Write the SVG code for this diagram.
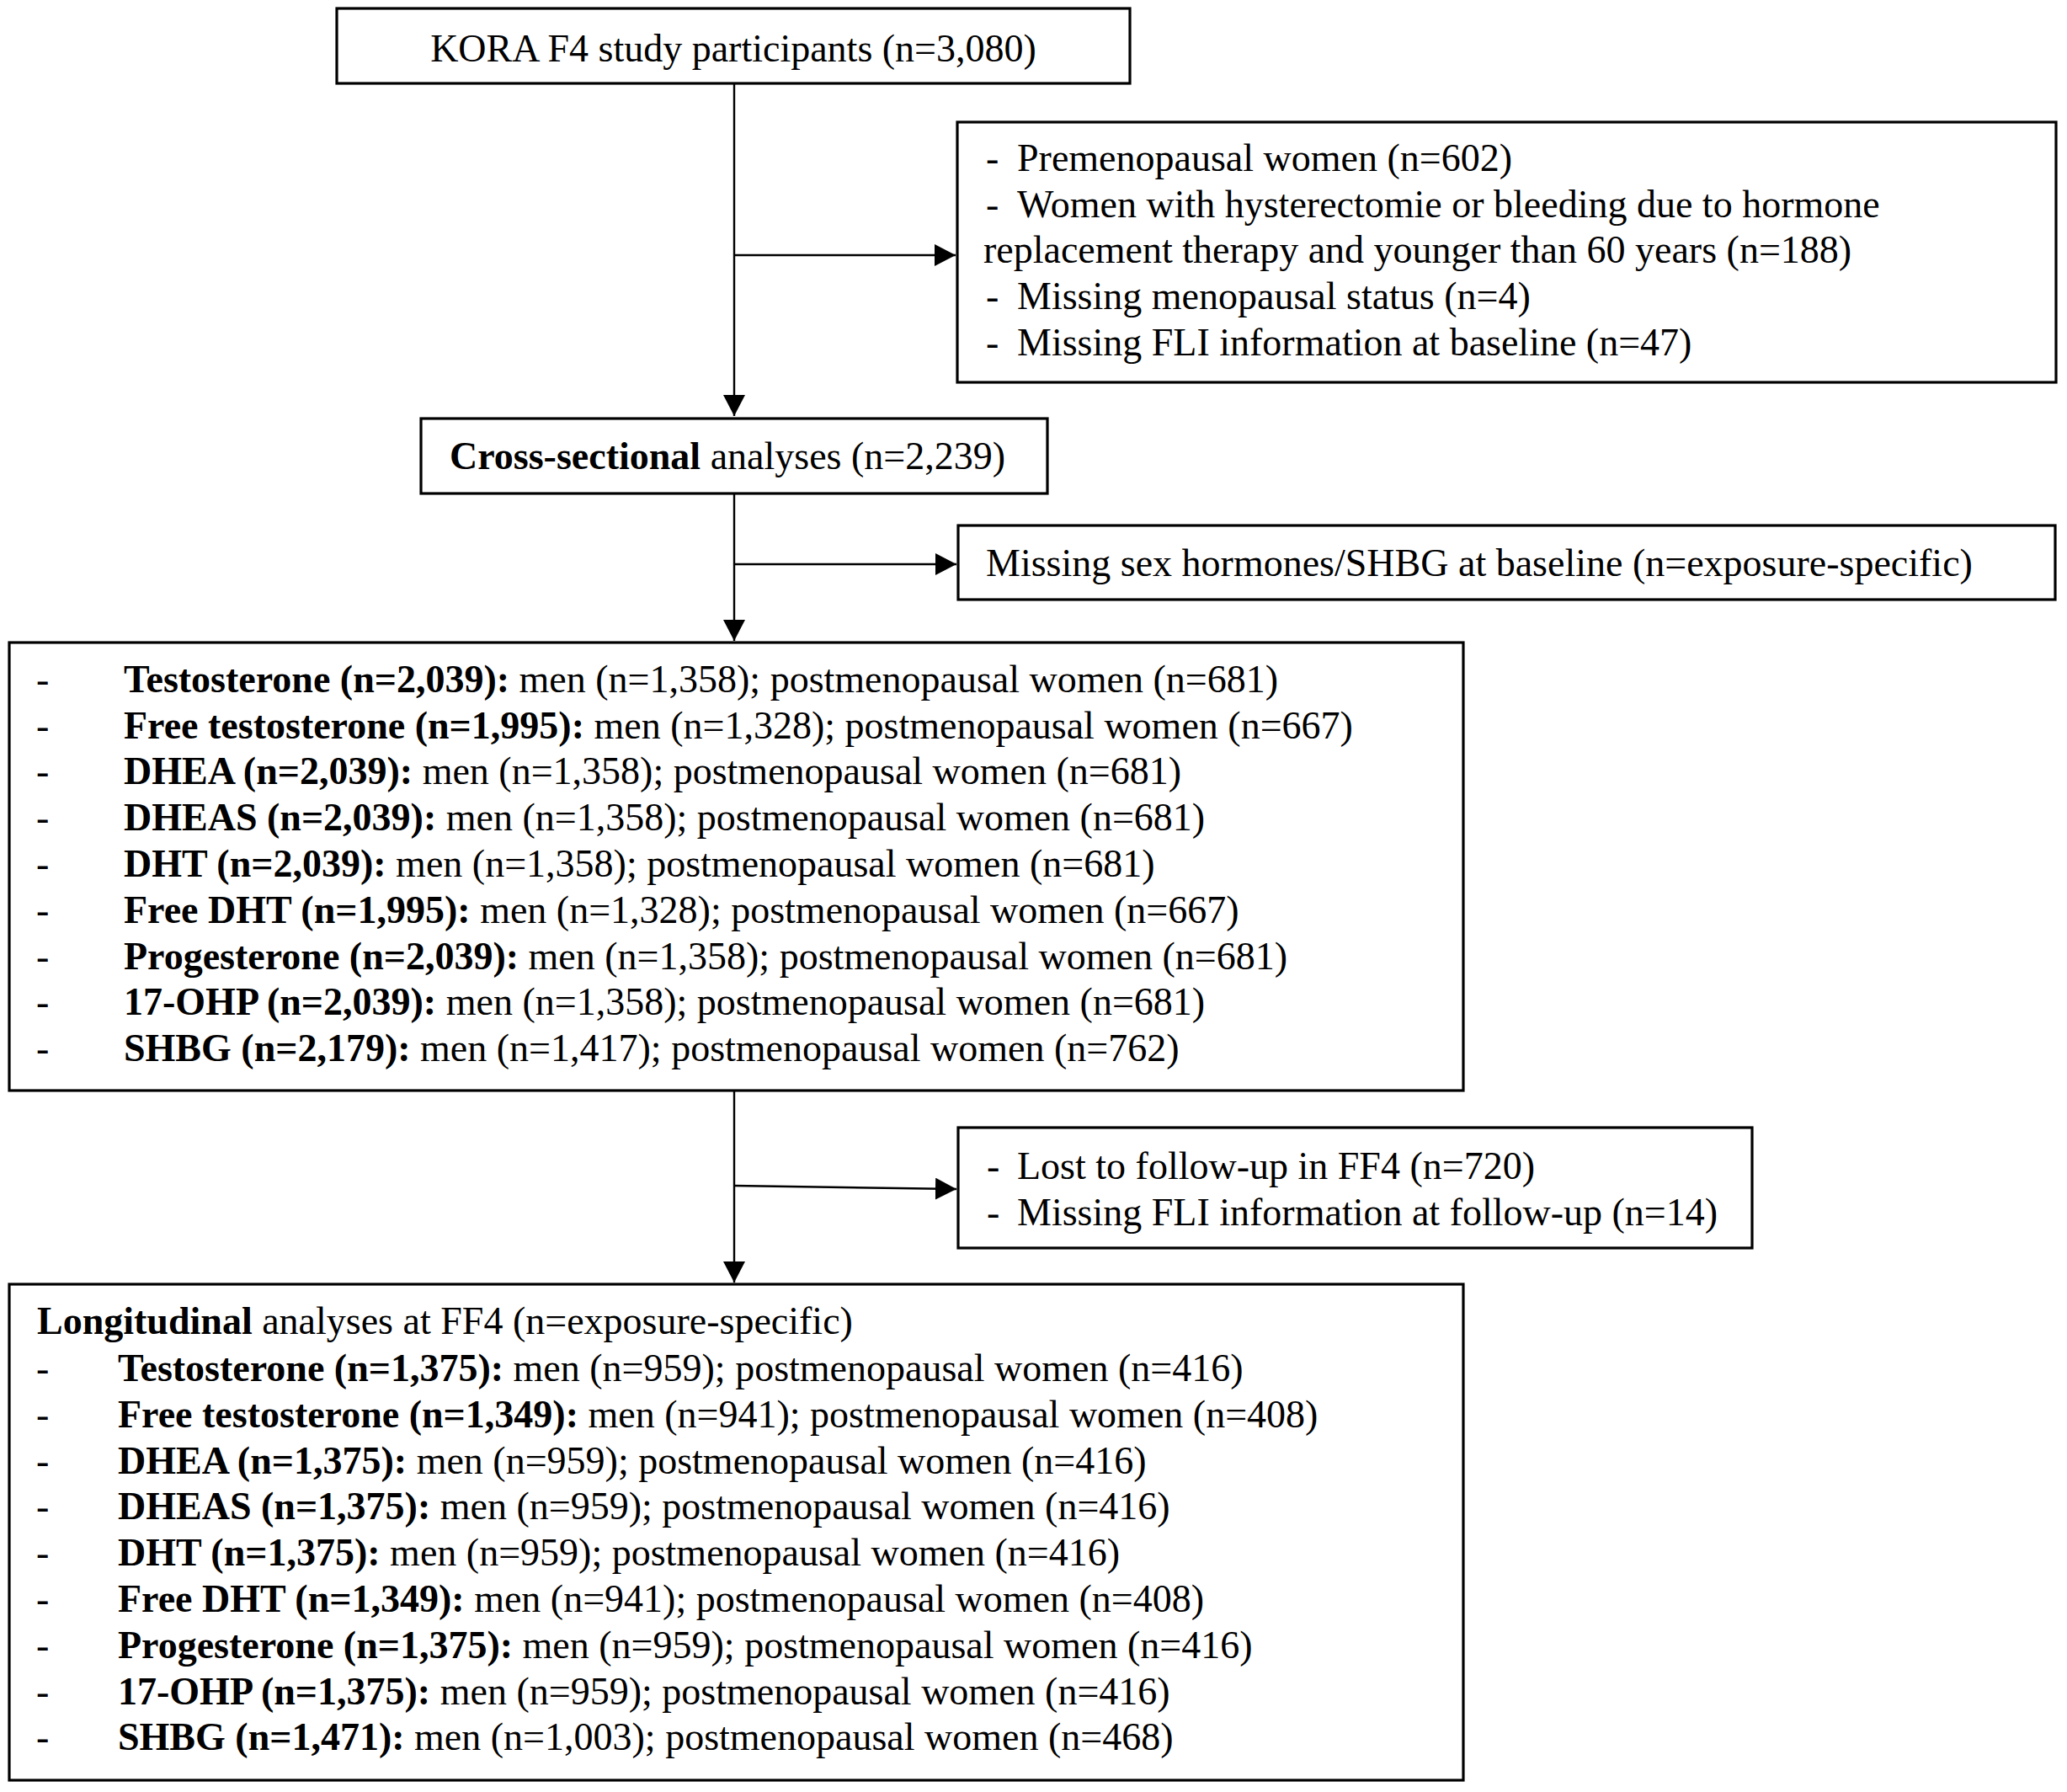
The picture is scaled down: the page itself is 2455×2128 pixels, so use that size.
<svg xmlns="http://www.w3.org/2000/svg" width="2455" height="2128" viewBox="0 0 2455 2128">
<style>
.box{fill:#fff;stroke:#000;stroke-width:3.2}
.t{font-family:"Liberation Serif","Times New Roman",serif;font-size:46px;fill:#000}
.b{font-weight:bold}
.conn{fill:none;stroke:#000;stroke-width:2.4}
</style>
<defs>
<marker id="arr" markerUnits="userSpaceOnUse" markerWidth="26" markerHeight="28" refX="25" refY="13" orient="auto">
<path d="M0,0 L25,13 L0,26 z" fill="#000"/>
</marker>
</defs>
<rect width="2455" height="2128" fill="#fff"/>
<g id="connectors">
<path class="conn" d="M872,99 V494" marker-end="url(#arr)"/>
<path class="conn" d="M872,303 H1135" marker-end="url(#arr)"/>
<path class="conn" d="M872,586 V761" marker-end="url(#arr)"/>
<path class="conn" d="M872,670 H1136" marker-end="url(#arr)"/>
<path class="conn" d="M872,1295 V1523" marker-end="url(#arr)"/>
<path class="conn" d="M872,1408 L1136,1412" marker-end="url(#arr)"/>
</g>
<g id="n1">
<rect class="box" x="400" y="10" width="942" height="89"/>
<text class="t" x="871" y="73" text-anchor="middle">KORA F4 study participants (n=3,080)</text>
</g>
<g id="n2">
<rect class="box" x="1137" y="145" width="1305" height="309"/>
<text class="t" x="1171" y="203">-</text><text class="t" x="1208" y="203">Premenopausal women (n=602)</text>
<text class="t" x="1171" y="258">-</text><text class="t" x="1208" y="258">Women with hysterectomie or bleeding due to hormone</text>
<text class="t" x="1168" y="312">replacement therapy and younger than 60 years (n=188)</text>
<text class="t" x="1171" y="367">-</text><text class="t" x="1208" y="367">Missing menopausal status (n=4)</text>
<text class="t" x="1171" y="422">-</text><text class="t" x="1208" y="422">Missing FLI information at baseline (n=47)</text>
</g>
<g id="n3">
<rect class="box" x="500" y="497" width="744" height="89"/>
<text class="t" x="534" y="557"><tspan class="b">Cross-sectional</tspan> analyses (n=2,239)</text>
</g>
<g id="n4">
<rect class="box" x="1138" y="624" width="1303" height="88"/>
<text class="t" x="1171" y="684">Missing sex hormones/SHBG at baseline (n=exposure-specific)</text>
</g>
<g id="n5">
<rect class="box" x="11" y="763" width="1727" height="532"/>
<text class="t" x="43" y="822">-</text><text class="t" x="147" y="822"><tspan class="b">Testosterone (n=2,039):</tspan> men (n=1,358); postmenopausal women (n=681)</text>
<text class="t" x="43" y="877">-</text><text class="t" x="147" y="877"><tspan class="b">Free testosterone (n=1,995):</tspan> men (n=1,328); postmenopausal women (n=667)</text>
<text class="t" x="43" y="931">-</text><text class="t" x="147" y="931"><tspan class="b">DHEA (n=2,039):</tspan> men (n=1,358); postmenopausal women (n=681)</text>
<text class="t" x="43" y="986">-</text><text class="t" x="147" y="986"><tspan class="b">DHEAS (n=2,039):</tspan> men (n=1,358); postmenopausal women (n=681)</text>
<text class="t" x="43" y="1041">-</text><text class="t" x="147" y="1041"><tspan class="b">DHT (n=2,039):</tspan> men (n=1,358); postmenopausal women (n=681)</text>
<text class="t" x="43" y="1096">-</text><text class="t" x="147" y="1096"><tspan class="b">Free DHT (n=1,995):</tspan> men (n=1,328); postmenopausal women (n=667)</text>
<text class="t" x="43" y="1151">-</text><text class="t" x="147" y="1151"><tspan class="b">Progesterone (n=2,039):</tspan> men (n=1,358); postmenopausal women (n=681)</text>
<text class="t" x="43" y="1205">-</text><text class="t" x="147" y="1205"><tspan class="b">17-OHP (n=2,039):</tspan> men (n=1,358); postmenopausal women (n=681)</text>
<text class="t" x="43" y="1260">-</text><text class="t" x="147" y="1260"><tspan class="b">SHBG (n=2,179):</tspan> men (n=1,417); postmenopausal women (n=762)</text>
</g>
<g id="n6">
<rect class="box" x="1138" y="1339" width="943" height="143"/>
<text class="t" x="1172" y="1400">-</text><text class="t" x="1208" y="1400">Lost to follow-up in FF4 (n=720)</text>
<text class="t" x="1172" y="1455">-</text><text class="t" x="1208" y="1455">Missing FLI information at follow-up (n=14)</text>
</g>
<g id="n7">
<rect class="box" x="11" y="1525" width="1727" height="589"/>
<text class="t" x="44" y="1584"><tspan class="b">Longitudinal</tspan> analyses at FF4 (n=exposure-specific)</text>
<text class="t" x="43" y="1640">-</text><text class="t" x="140" y="1640"><tspan class="b">Testosterone (n=1,375):</tspan> men (n=959); postmenopausal women (n=416)</text>
<text class="t" x="43" y="1695">-</text><text class="t" x="140" y="1695"><tspan class="b">Free testosterone (n=1,349):</tspan> men (n=941); postmenopausal women (n=408)</text>
<text class="t" x="43" y="1750">-</text><text class="t" x="140" y="1750"><tspan class="b">DHEA (n=1,375):</tspan> men (n=959); postmenopausal women (n=416)</text>
<text class="t" x="43" y="1804">-</text><text class="t" x="140" y="1804"><tspan class="b">DHEAS (n=1,375):</tspan> men (n=959); postmenopausal women (n=416)</text>
<text class="t" x="43" y="1859">-</text><text class="t" x="140" y="1859"><tspan class="b">DHT (n=1,375):</tspan> men (n=959); postmenopausal women (n=416)</text>
<text class="t" x="43" y="1914">-</text><text class="t" x="140" y="1914"><tspan class="b">Free DHT (n=1,349):</tspan> men (n=941); postmenopausal women (n=408)</text>
<text class="t" x="43" y="1969">-</text><text class="t" x="140" y="1969"><tspan class="b">Progesterone (n=1,375):</tspan> men (n=959); postmenopausal women (n=416)</text>
<text class="t" x="43" y="2024">-</text><text class="t" x="140" y="2024"><tspan class="b">17-OHP (n=1,375):</tspan> men (n=959); postmenopausal women (n=416)</text>
<text class="t" x="43" y="2078">-</text><text class="t" x="140" y="2078"><tspan class="b">SHBG (n=1,471):</tspan> men (n=1,003); postmenopausal women (n=468)</text>
</g>
</svg>
